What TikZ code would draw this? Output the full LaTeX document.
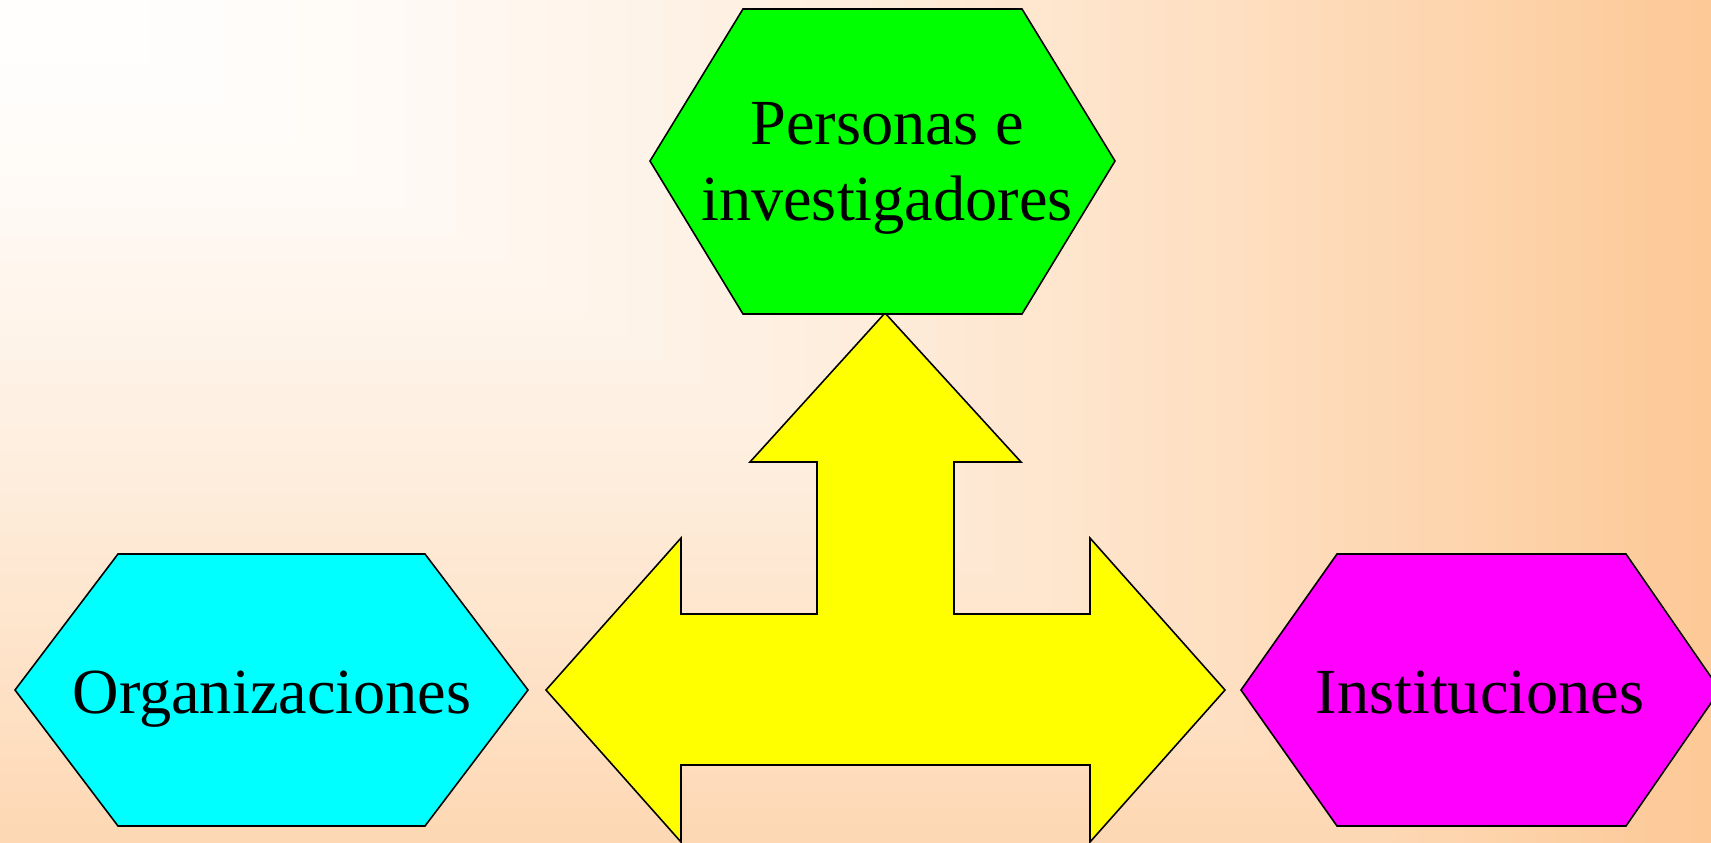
\documentclass[tikz,border=0pt]{standalone}
\usepackage{fontspec}
\setmainfont{Liberation Serif}

\definecolor{peachend}{RGB}{253,201,151}
\definecolor{hexgreen}{RGB}{0,255,0}
\definecolor{hexcyan}{RGB}{0,255,255}
\definecolor{hexmagenta}{RGB}{255,0,255}
\definecolor{arrowyellow}{RGB}{255,255,0}

\begin{document}
\begin{tikzpicture}[
    shapeline/.style={draw=black, line width=0.45pt, line join=miter},
    boxtext/.style={font=\fontsize{18.3}{21.5}\selectfont, text=black, inner sep=0pt, align=center, anchor=base}]

    % Background: white corner fading into peach
    \useasboundingbox (0,0) rectangle (17.11,-8.42);
    \begin{scope}
        \clip (0,0) rectangle (17.11,-8.42);
        \fill[white] (0,0) rectangle (17.11,-8.42);
        \foreach \i [evaluate=\i as \p using int(2*\i)] in {50,49,...,1}
            \fill[peachend!\p!white] (0,0) rectangle ({17.11*(\i/50)^0.625},{-8.42*(\i/36)^0.714});
    \end{scope}

    % Three headed arrow (left, right and up)
    \filldraw[shapeline, fill=arrowyellow] (8.85,-3.13) -- (10.21,-4.62) -- (9.54,-4.62) -- (9.54,-6.14)
        -- (10.90,-6.14) -- (10.90,-5.38) -- (12.25,-6.90) -- (10.90,-8.42) -- (10.90,-7.65)
        -- (6.81,-7.65) -- (6.81,-8.42) -- (5.46,-6.90) -- (6.81,-5.38) -- (6.81,-6.14)
        -- (8.17,-6.14) -- (8.17,-4.62) -- (7.50,-4.62) -- cycle;

    % Top hexagon
    \filldraw[shapeline, fill=hexgreen] (7.43,-0.09) -- (10.22,-0.09) -- (11.15,-1.61) -- (10.22,-3.14) -- (7.43,-3.14) -- (6.50,-1.61) -- cycle;
    \node[boxtext] (personas) at (8.87,-2.20) {Personas e\\investigadores};

    % Left hexagon
    \filldraw[shapeline, fill=hexcyan] (1.18,-5.54) -- (4.25,-5.54) -- (5.28,-6.90) -- (4.25,-8.26) -- (1.18,-8.26) -- (0.15,-6.90) -- cycle;
    \node[boxtext] (organizaciones) at (2.72,-7.13) {Organizaciones};

    % Right hexagon (cut by the border)
    \filldraw[shapeline, fill=hexmagenta] (13.37,-5.54) -- (16.26,-5.54) -- (17.20,-6.90) -- (16.26,-8.26) -- (13.37,-8.26) -- (12.41,-6.90) -- cycle;
    \node[boxtext] (instituciones) at (14.80,-7.13) {Instituciones};
\end{tikzpicture}
\end{document}
